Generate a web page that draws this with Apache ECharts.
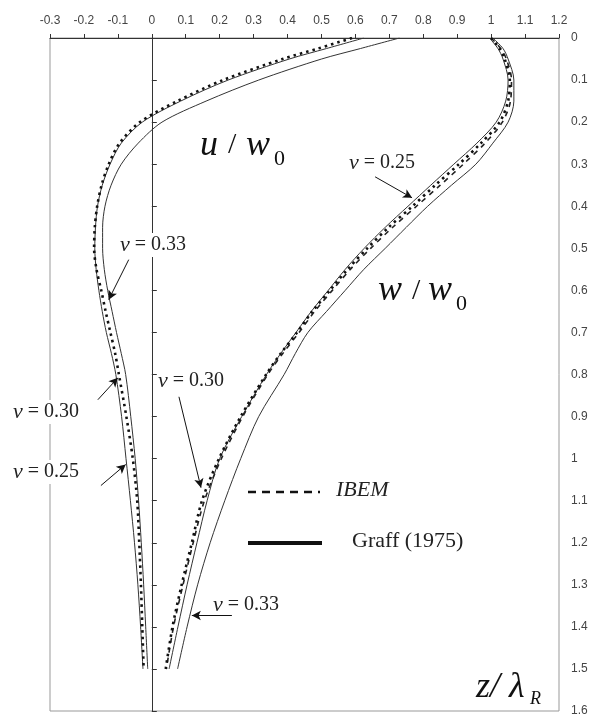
<!DOCTYPE html>
<html>
<head>
<meta charset="utf-8">
<script src="https://cdn.jsdelivr.net/npm/echarts@6/dist/echarts.min.js"></script>
<style>
  html, body { margin: 0; padding: 0; background: #fff; }
  #chart { width: 596px; height: 717px; }
</style>
</head>
<body>
<div id="chart"></div>
<script>
// depth z / lambda_R
const zDepth = [0, 0.025, 0.05, 0.1, 0.15, 0.2, 0.25, 0.3, 0.35, 0.4, 0.45, 0.5, 0.55,
  0.6, 0.65, 0.7, 0.75, 0.8, 0.9, 1.0, 1.1, 1.2, 1.3, 1.4, 1.5];

// horizontal displacement u / w0
const uIbem = [0.59, 0.49, 0.385, 0.21, 0.075, -0.035, -0.095, -0.127, -0.148, -0.161, -0.168, -0.17, -0.163,
  -0.149, -0.136, -0.122, -0.108, -0.097, -0.075, -0.056, -0.043, -0.037, -0.032, -0.028, -0.024];
const uGraffInner = [0.625, 0.515, 0.405, 0.225, 0.085, -0.028, -0.09, -0.123, -0.146, -0.16, -0.166, -0.168, -0.164,
  -0.156, -0.146, -0.134, -0.119, -0.106, -0.089, -0.076, -0.063, -0.051, -0.041, -0.033, -0.026];
const uGraffOuter = [0.73, 0.615, 0.5, 0.315, 0.16, 0.03, -0.04, -0.09, -0.12, -0.138, -0.145, -0.145, -0.14,
  -0.13, -0.117, -0.104, -0.09, -0.077, -0.062, -0.049, -0.039, -0.031, -0.024, -0.018, -0.012];

// vertical displacement w / w0
const wIbem = [1.0, 1.025, 1.04, 1.055, 1.05, 1.025, 0.97, 0.905, 0.835, 0.768, 0.698, 0.635, 0.577,
  0.525, 0.473, 0.428, 0.38, 0.337, 0.262, 0.198, 0.148, 0.118, 0.088, 0.061, 0.041];
const wIbem25 = [1.0, 1.028, 1.045, 1.06, 1.057, 1.033, 0.982, 0.918, 0.85, 0.78, 0.71, 0.645, 0.585,
  0.532, 0.48, 0.434, 0.386, 0.342, 0.268, 0.205, 0.155, 0.122, 0.092, 0.064, 0.043];
const wGraffInner = [0.995, 1.02, 1.035, 1.05, 1.043, 1.015, 0.958, 0.89, 0.822, 0.755, 0.688, 0.626, 0.57,
  0.52, 0.47, 0.425, 0.38, 0.338, 0.265, 0.2, 0.163, 0.133, 0.104, 0.077, 0.051];
const wGraffOuter = [1.005, 1.035, 1.05, 1.067, 1.067, 1.05, 1.005, 0.955, 0.883, 0.813, 0.75, 0.688, 0.625,
  0.57, 0.515, 0.46, 0.423, 0.39, 0.315, 0.262, 0.215, 0.172, 0.135, 0.104, 0.076];

// arrows for the nu labels: [x1, z1, x2, z2], head at the second point
const nuArrows = [
  [0.658, 0.330, 0.767, 0.380],
  [-0.068, 0.527, -0.127, 0.622],
  [-0.159, 0.860, -0.100, 0.808],
  [-0.150, 1.064, -0.077, 1.014],
  [0.080, 0.853, 0.145, 1.069],
  [0.236, 1.373, 0.118, 1.373]
];

const X_MIN = -0.3, X_MAX = 1.2;
const GRID = { left: 50, right: 37, top: 38, bottom: 5 };
const SERIF = 'Liberation Serif, Times New Roman, serif';
const SANS = 'Liberation Sans, Arial, sans-serif';

const pairs = xs => xs.map((x, i) => [x, zDepth[i]]);

const solid = (name, xs) => ({
  name, type: 'line', data: pairs(xs), smooth: 0.3, symbol: 'none',
  lineStyle: { color: '#333', width: 1 }, z: 3
});
const dotted = (name, xs) => ({
  name, type: 'line', data: pairs(xs), smooth: 0.3, symbol: 'none',
  lineStyle: { color: '#111', width: 2.6, type: [2.5, 4] }, z: 4
});
const dashed = (name, xs) => ({
  name, type: 'line', data: pairs(xs), smooth: 0.3, symbol: 'none',
  lineStyle: { color: '#222', width: 1.6, type: [5, 5] }, z: 4
});

// knockout = white box, so the label breaks the frame / zero line like in the original
const nuText = (left, top, val, knockout) => ({
  type: 'text', left, top, z: 100,
  style: {
    text: '{n|ν} = ' + val,
    font: '20px ' + SERIF, fill: '#222',
    backgroundColor: knockout ? '#fff' : 'transparent', padding: [1, 2],
    rich: { n: { fontFamily: SERIF, fontSize: 22, fontStyle: 'italic' } }
  }
});

const el = document.getElementById('chart');
const chart = echarts.init(el);
// the inner vertical axis sits at x = 0
const plotWidth = el.clientWidth - GRID.left - GRID.right;
const zeroOffset = -plotWidth * (0 - X_MIN) / (X_MAX - X_MIN);

chart.setOption({
  animation: false,
  grid: Object.assign({ show: true, borderColor: '#999', borderWidth: 1 }, GRID),
  xAxis: {
    type: 'value', position: 'top', min: X_MIN, max: X_MAX, interval: 0.1,
    axisLine: { show: true, onZero: false, lineStyle: { color: '#333' } },
    axisTick: { show: true, length: 4, lineStyle: { color: '#333' } },
    axisLabel: { color: '#444', fontSize: 12, fontFamily: SANS, margin: 11 },
    splitLine: { show: false }
  },
  yAxis: [
    {
      type: 'value', position: 'right', inverse: true, min: 0, max: 1.6, interval: 0.1,
      axisLine: { show: false }, axisTick: { show: false },
      axisLabel: { color: '#444', fontSize: 12, fontFamily: SANS, margin: 12 },
      splitLine: { show: false }
    },
    {
      type: 'value', position: 'left', offset: zeroOffset, inverse: true, min: 0, max: 1.6, interval: 0.1,
      axisLine: { show: true, onZero: false, lineStyle: { color: '#333' } },
      axisTick: { show: true, inside: true, length: 5, lineStyle: { color: '#333' } },
      axisLabel: { show: false },
      splitLine: { show: false }
    }
  ],
  series: [
    solid('u Graff inner', uGraffInner),
    solid('u Graff outer', uGraffOuter),
    dotted('u IBEM', uIbem),
    solid('w Graff inner', wGraffInner),
    solid('w Graff outer', wGraffOuter),
    dashed('w IBEM 0.25', wIbem25),
    dotted('w IBEM', wIbem),
    {
      name: 'arrows', type: 'line', data: [], symbol: 'none',
      markLine: {
        silent: true, animation: false,
        symbol: ['none', 'arrow'], symbolSize: [7, 9],
        label: { show: false },
        lineStyle: { color: '#111', width: 1, type: 'solid' },
        data: nuArrows.map(a => [{ coord: [a[0], a[1]] }, { coord: [a[2], a[3]] }])
      }
    }
  ],
  graphic: [
    // u / w0
    { type: 'text', left: 200, top: 128, style: { text: 'u', font: 'italic 36px ' + SERIF, fill: '#111' } },
    { type: 'text', left: 228, top: 130, style: { text: '/', font: '30px ' + SERIF, fill: '#111' } },
    { type: 'text', left: 246, top: 128, style: { text: 'w', font: 'italic 36px ' + SERIF, fill: '#111' } },
    { type: 'text', left: 274, top: 148, style: { text: '0', font: '22px ' + SERIF, fill: '#111' } },
    // w / w0
    { type: 'text', left: 378, top: 273, style: { text: 'w', font: 'italic 36px ' + SERIF, fill: '#111' } },
    { type: 'text', left: 412, top: 276, style: { text: '/', font: '30px ' + SERIF, fill: '#111' } },
    { type: 'text', left: 428, top: 273, style: { text: 'w', font: 'italic 36px ' + SERIF, fill: '#111' } },
    { type: 'text', left: 456, top: 293, style: { text: '0', font: '22px ' + SERIF, fill: '#111' } },
    // nu labels
    nuText(347, 151, '0.25', false),
    nuText(118, 233, '0.33', true),
    nuText(11, 400, '0.30', true),
    nuText(11, 460, '0.25', true),
    nuText(156, 369, '0.30', false),
    nuText(211, 593, '0.33', false),
    // legend
    { type: 'line', shape: { x1: 248, y1: 492, x2: 320, y2: 492 },
      style: { stroke: '#111', lineWidth: 2.5, lineDash: [8, 6] } },
    { type: 'text', left: 336, top: 479, style: { text: 'IBEM', font: 'italic 22px ' + SERIF, fill: '#222' } },
    { type: 'line', shape: { x1: 248, y1: 543, x2: 322, y2: 543 },
      style: { stroke: '#111', lineWidth: 4 } },
    { type: 'text', left: 352, top: 530, style: { text: 'Graff (1975)', font: '22px ' + SERIF, fill: '#222' } },
    // z / lambda_R
    { type: 'text', left: 476, top: 670, style: { text: 'z/ λ', font: 'italic 36px ' + SERIF, fill: '#111' } },
    { type: 'text', left: 530, top: 690, style: { text: 'R', font: 'italic 18px ' + SERIF, fill: '#111' } }
  ]
});
</script>
</body>
</html>
